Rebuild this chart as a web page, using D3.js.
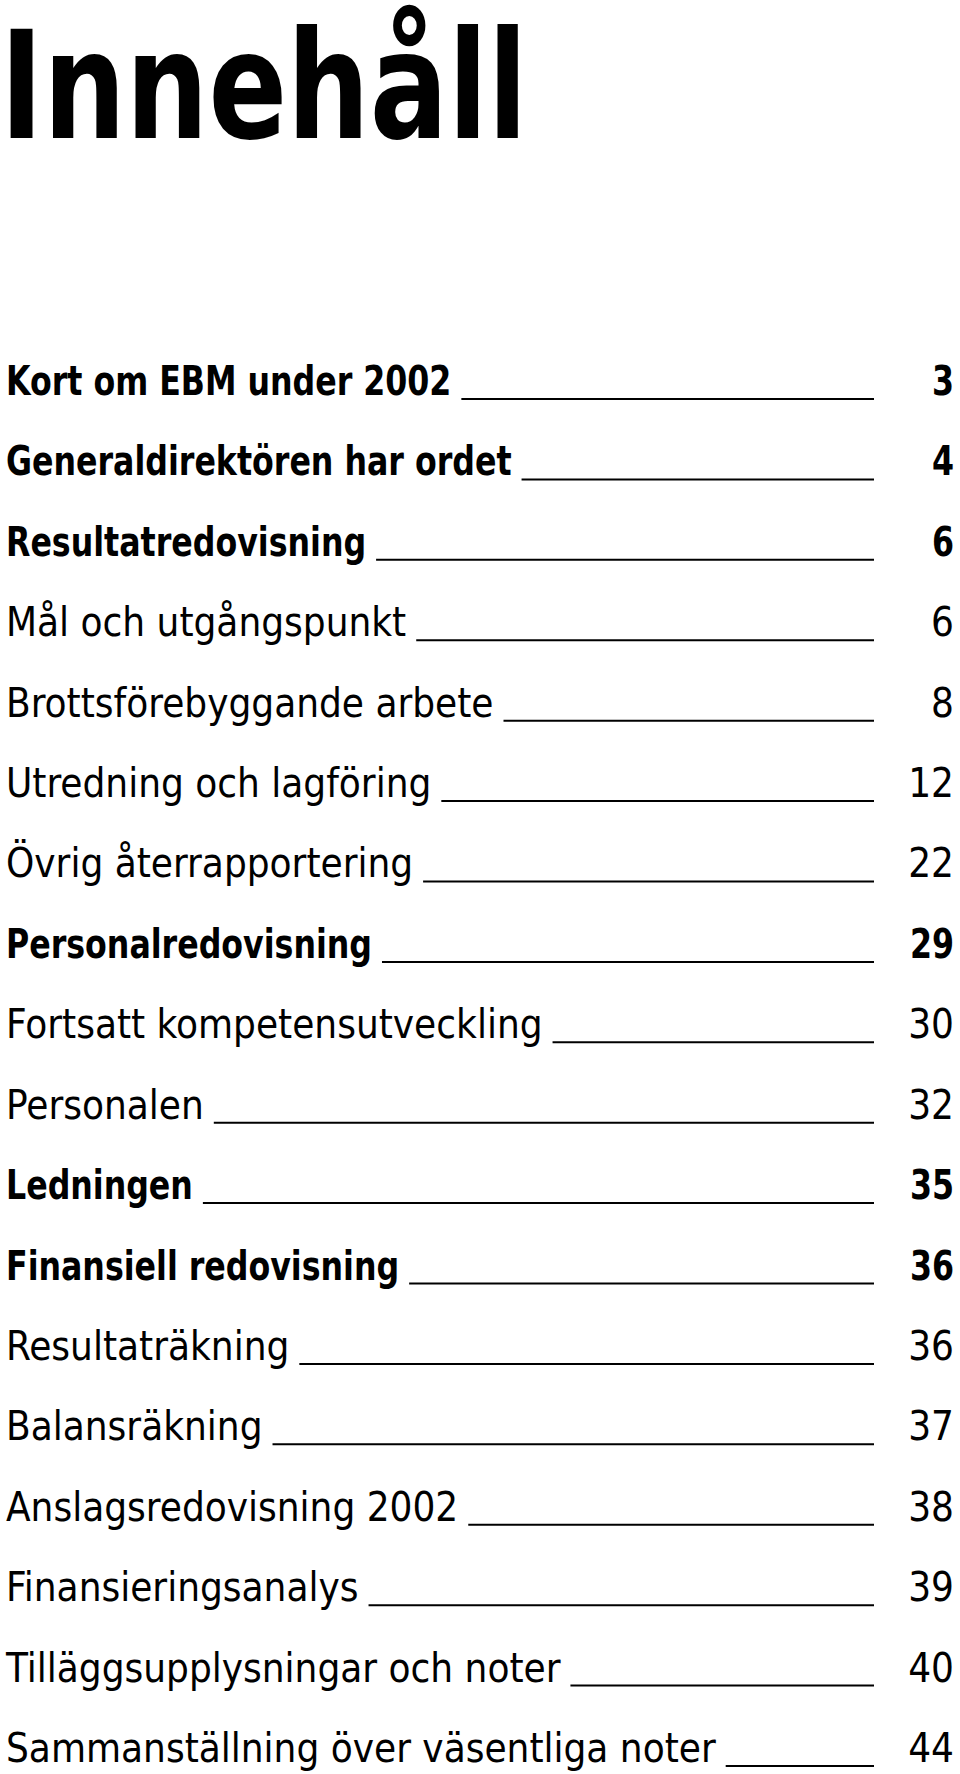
<!DOCTYPE html>
<html><head><meta charset="utf-8">
<script src="https://cdn.jsdelivr.net/npm/d3@7"></script>
<style>body{margin:0;background:#fff}</style>
</head><body>
<svg id="toc" width="960" height="1774"></svg>
<script>
const titel = 'Innehåll';
const rubriker = ['Kort om EBM under 2002','Generaldirektören har ordet','Resultatredovisning','Mål och utgångspunkt','Brottsförebyggande arbete','Utredning och lagföring','Övrig återrapportering','Personalredovisning','Fortsatt kompetensutveckling','Personalen','Ledningen','Finansiell redovisning','Resultaträkning','Balansräkning','Anslagsredovisning 2002','Finansieringsanalys','Tilläggsupplysningar och noter','Sammanställning över väsentliga noter'];
const sidor = [3,4,6,6,8,12,22,29,30,32,35,36,36,37,38,39,40,44];
const fet = [true,true,true,false,false,false,false,true,false,false,true,true,false,false,false,false,false,false];

const svg = d3.select('#toc');
const font = '"Liberation Sans Narrow", "DejaVu Sans Condensed", sans-serif';

svg.append('text').text(titel)
  .attr('x', 0).attr('y', 138)
  .attr('font-family', font).attr('font-weight', 'bold')
  .attr('font-size', 150)
  .attr('transform', 'scale(0.86,1)')
  .attr('fill', '#000');

const y = d3.scalePoint().domain(d3.range(rubriker.length)).range([395, 1762]);

rubriker.forEach((r, i) => {
  const sx = fet[i] ? 0.88 : 1.0;
  const g = svg.append('g').attr('transform', `translate(0,${y(i)})`);
  const t = g.append('text').text(r)
    .attr('x', 6 / sx).attr('y', 0)
    .attr('transform', `scale(${sx},1)`)
    .attr('font-family', font)
    .attr('font-weight', fet[i] ? 'bold' : 'normal')
    .attr('font-size', 40).attr('fill', '#000');
  const end = (6 / sx + t.node().getComputedTextLength()) * sx;
  g.append('line')
    .attr('x1', end + 10).attr('x2', 874)
    .attr('y1', 4).attr('y2', 4)
    .attr('stroke', '#000').attr('stroke-width', 2);
  g.append('text').text(sidor[i])
    .attr('x', 954 / sx).attr('y', 0)
    .attr('transform', `scale(${sx},1)`)
    .attr('text-anchor', 'end')
    .attr('font-family', font)
    .attr('font-weight', fet[i] ? 'bold' : 'normal')
    .attr('font-size', 40).attr('fill', '#000');
});
</script>
</body></html>
